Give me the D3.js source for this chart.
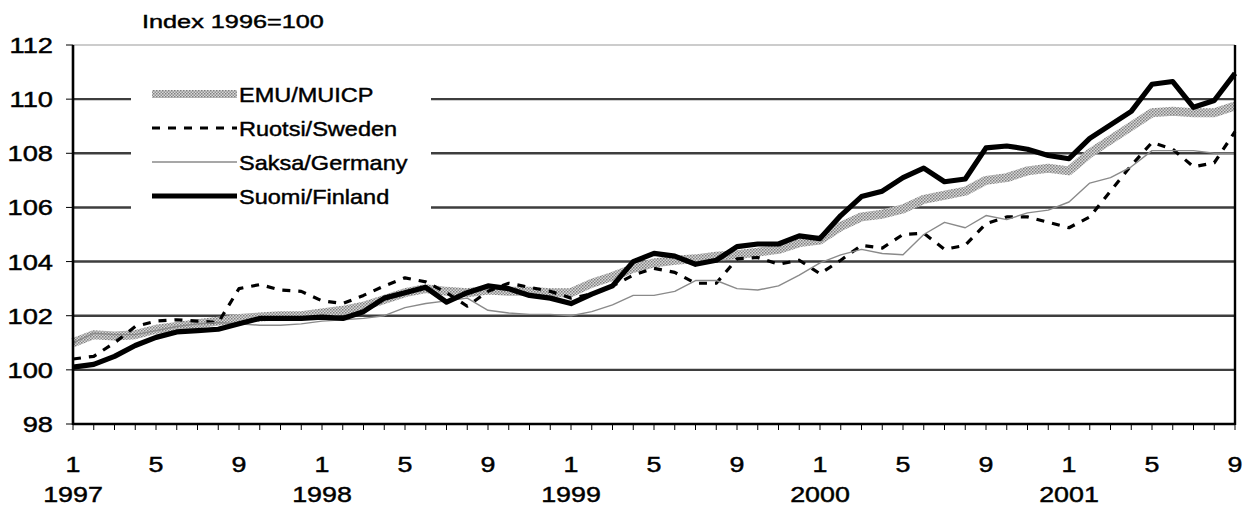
<!DOCTYPE html>
<html>
<head>
<meta charset="utf-8">
<script src="https://cdn.jsdelivr.net/npm/d3@7"></script>
<style>
  body { margin: 0; background: #fff; }
  text { font-family: Arial, "Liberation Sans", sans-serif; fill: #000; stroke: #000; stroke-width: 0.45px; }
</style>
</head>
<body>
<div id="chart"></div>
<script>
'use strict';

// monthly index, 1996=100, Jan 1997 .. Sep 2001
var emu = [101.0, 101.3, 101.25, 101.3, 101.5, 101.6, 101.7, 101.8, 101.9, 101.95,
  102.0, 102.0, 102.1, 102.2, 102.35, 102.6, 102.85, 103.0, 102.9, 102.85,
  102.95, 102.9, 102.9, 102.85, 102.85, 103.2, 103.45, 103.75, 103.95, 104.05,
  104.1, 104.2, 104.25, 104.35, 104.45, 104.7, 104.8, 105.3, 105.65, 105.75,
  105.95, 106.3, 106.45, 106.6, 107.0, 107.1, 107.35, 107.45, 107.35, 108.0,
  108.5, 109.0, 109.5, 109.55, 109.5, 109.5, 109.75];

var sweden = [100.4, 100.5, 101.0, 101.6, 101.8, 101.85, 101.8, 101.75, 103.0, 103.15,
  102.95, 102.9, 102.55, 102.45, 102.75, 103.1, 103.4, 103.25, 102.85, 102.35,
  102.9, 103.2, 103.05, 102.9, 102.65, 102.8, 103.1, 103.5, 103.75, 103.6,
  103.2, 103.2, 104.1, 104.15, 103.9, 104.05, 103.55, 104.05, 104.6, 104.5,
  105.0, 105.05, 104.45, 104.6, 105.4, 105.65, 105.65, 105.45, 105.25, 105.65,
  106.6, 107.55, 108.4, 108.15, 107.5, 107.65, 108.8];

var germany = [101.0, 101.35, 101.3, 101.3, 101.45, 101.6, 101.7, 101.75, 101.7, 101.65,
  101.65, 101.7, 101.8, 101.85, 101.9, 102.0, 102.3, 102.45, 102.55, 102.65,
  102.2, 102.1, 102.05, 102.05, 102.0, 102.15, 102.4, 102.75, 102.75, 102.9,
  103.3, 103.3, 103.0, 102.95, 103.1, 103.5, 103.95, 104.25, 104.45, 104.3,
  104.25, 105.0, 105.45, 105.25, 105.7, 105.55, 105.8, 105.9, 106.2, 106.9,
  107.1, 107.5, 108.1, 108.1, 108.1, 108.0, 108.0];

var finland = [100.1, 100.2, 100.5, 100.9, 101.2, 101.4, 101.45, 101.5, 101.7, 101.9,
  101.9, 101.9, 101.95, 101.9, 102.15, 102.65, 102.85, 103.05, 102.5, 102.85,
  103.1, 103.0, 102.75, 102.65, 102.45, 102.8, 103.1, 104.0, 104.3, 104.2,
  103.9, 104.05, 104.55, 104.65, 104.65, 104.95, 104.85, 105.7, 106.4, 106.6,
  107.1, 107.45, 106.95, 107.05, 108.2, 108.27, 108.15, 107.92, 107.8, 108.55,
  109.05, 109.55, 110.55, 110.65, 109.7, 109.95, 110.95];

var yTicks = [98, 100, 102, 104, 106, 108, 110, 112];
var monthTicks = [0, 4, 8, 12, 16, 20, 24, 28, 32, 36, 40, 44, 48, 52, 56];
var monthLabels = ['1', '5', '9', '1', '5', '9', '1', '5', '9', '1', '5', '9', '1', '5', '9'];
var yearTicks = [0, 12, 24, 36, 48];
var yearLabels = ['1997', '1998', '1999', '2000', '2001'];
var seriesNames = ['EMU/MUICP', 'Ruotsi/Sweden', 'Saksa/Germany', 'Suomi/Finland'];

var W = 1247, H = 505;

var svg = d3.select('#chart').append('svg')
    .attr('width', W)
    .attr('height', H);

// halftone-ish pattern for the EMU band
var pat = svg.append('defs').append('pattern')
    .attr('id', 'emuPat')
    .attr('width', 3).attr('height', 3)
    .attr('patternUnits', 'userSpaceOnUse');
pat.append('rect').attr('width', 3).attr('height', 3).attr('fill', '#d8d8d8');
pat.append('rect').attr('width', 1.5).attr('height', 1.5).attr('fill', '#7e7e7e');
pat.append('rect').attr('x', 1.5).attr('y', 1.5).attr('width', 1.5).attr('height', 1.5).attr('fill', '#8e8e8e');

var x = d3.scaleLinear().domain([0, 56]).range([73, 1235]);
var y = d3.scaleLinear().domain([98, 112]).range([424, 45]);

// stretched text helper (the original lettering is wide)
function wideText(g, tx, ty, str, size, sx, anchor) {
  return g.append('text')
      .attr('transform', 'translate(' + tx + ',' + ty + ') scale(' + sx + ',1)')
      .attr('font-size', size)
      .attr('text-anchor', anchor || 'start')
      .text(str);
}

// gridlines
svg.append('g').selectAll('line')
    .data(yTicks.filter(function (d) { return d > 98 && d < 112; }))
    .enter().append('line')
    .attr('x1', x(0)).attr('x2', x(56))
    .attr('y1', function (d) { return y(d); })
    .attr('y2', function (d) { return y(d); })
    .attr('stroke', '#3e3e3e')
    .attr('stroke-width', 2.4);

svg.append('line')
    .attr('x1', x(0)).attr('x2', x(56))
    .attr('y1', y(112)).attr('y2', y(112))
    .attr('stroke', '#999')
    .attr('stroke-width', 1);

// legend background cuts the gridlines
svg.append('rect')
    .attr('x', 131).attr('y', 76)
    .attr('width', 300).attr('height', 138)
    .attr('fill', '#fff');

var line = d3.line()
    .x(function (d, i) { return x(i); })
    .y(function (d) { return y(d); });

var series = [
  { values: emu, stroke: 'url(#emuPat)', width: 9, dash: null },
  { values: sweden, stroke: '#000', width: 3.2, dash: '8,8' },
  { values: germany, stroke: '#8a8a8a', width: 1.4, dash: null },
  { values: finland, stroke: '#000', width: 5.2, dash: null }
];

svg.append('g').selectAll('path')
    .data(series)
    .enter().append('path')
    .attr('d', function (d) { return line(d.values); })
    .attr('fill', 'none')
    .attr('stroke', function (d) { return d.stroke; })
    .attr('stroke-width', function (d) { return d.width; })
    .attr('stroke-dasharray', function (d) { return d.dash; })
    .attr('stroke-linejoin', 'round');

// frame
svg.append('line')
    .attr('x1', x(0)).attr('x2', x(0))
    .attr('y1', y(112)).attr('y2', y(98) + 1)
    .attr('stroke', '#000').attr('stroke-width', 2.6);
svg.append('line')
    .attr('x1', x(56)).attr('x2', x(56))
    .attr('y1', y(112)).attr('y2', y(98) + 1)
    .attr('stroke', '#000').attr('stroke-width', 2.4);
svg.append('line')
    .attr('x1', x(0)).attr('x2', x(56))
    .attr('y1', y(98)).attr('y2', y(98))
    .attr('stroke', '#000').attr('stroke-width', 2.6);

// y ticks and labels
var yAxis = svg.append('g');
yAxis.selectAll('line')
    .data(yTicks)
    .enter().append('line')
    .attr('x1', x(0) - 7).attr('x2', x(0))
    .attr('y1', function (d) { return y(d); })
    .attr('y2', function (d) { return y(d); })
    .attr('stroke', '#000').attr('stroke-width', 1);
yTicks.forEach(function (d) {
  wideText(yAxis, 53, y(d) + 8, String(d), 22, 1.24, 'end');
});

// x ticks, month and year labels
var xAxis = svg.append('g');
xAxis.selectAll('line')
    .data(d3.range(57))
    .enter().append('line')
    .attr('x1', function (d) { return x(d); })
    .attr('x2', function (d) { return x(d); })
    .attr('y1', y(98)).attr('y2', y(98) + 6)
    .attr('stroke', '#000').attr('stroke-width', 1);
monthTicks.forEach(function (m, i) {
  wideText(xAxis, x(m), 472, monthLabels[i], 22, 1.22, 'middle');
});
yearTicks.forEach(function (m, i) {
  wideText(xAxis, x(m), 502, yearLabels[i], 22, 1.22, 'middle');
});

// title
wideText(svg, 142, 28, 'Index 1996=100', 19, 1.33, 'start');

// legend
var legend = svg.append('g');
var legendY = [94, 128, 162, 196];
series.forEach(function (s, i) {
  legend.append('line')
      .attr('x1', 152).attr('x2', 237)
      .attr('y1', legendY[i]).attr('y2', legendY[i])
      .attr('stroke', s.stroke)
      .attr('stroke-width', i === 0 ? 8 : s.width)
      .attr('stroke-dasharray', s.dash);
  wideText(legend, 239, legendY[i] + 8, seriesNames[i], 21, 1.12, 'start');
});
</script>
</body>
</html>
